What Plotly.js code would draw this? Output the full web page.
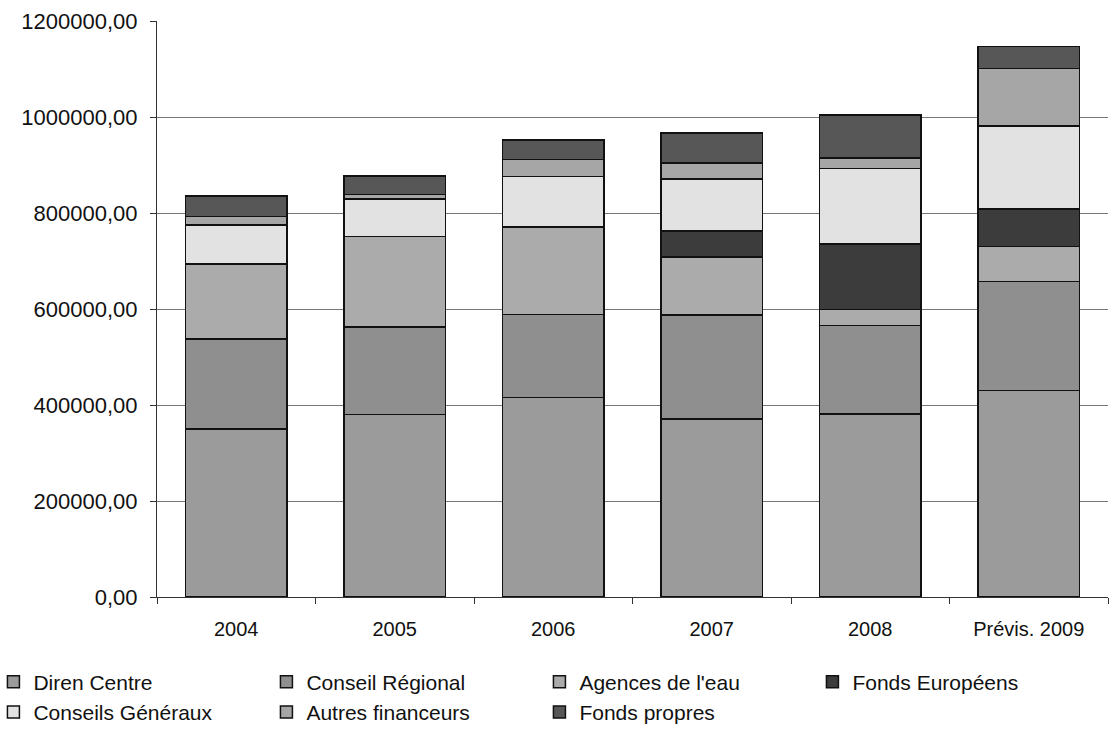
<!DOCTYPE html>
<html>
<head>
<meta charset="utf-8">
<script src="https://cdn.plot.ly/plotly-3.0.1.min.js"></script>
<style>
html,body{margin:0;padding:0;background:#fff;}
#chart{width:1112px;height:731px;}
</style>
</head>
<body>
<div id="chart"></div>
<script>
const categories = ["2004", "2005", "2006", "2007", "2008", "Prévis. 2009"];
const direnCentre       = [350000, 380000, 416000, 371000, 381000, 430000];
const conseilRegional   = [187000, 183000, 173000, 216000, 185000, 227000];
const agencesEau        = [157000, 188000, 182000, 121000, 33000, 73000];
const fondsEuropeens    = [0, 0, 0, 55000, 136000, 78000];
const conseilsGeneraux  = [81000, 78000, 105000, 108000, 158000, 173000];
const autresFinanceurs  = [18000, 10000, 35000, 33000, 22000, 120000];
const fondsPropres      = [42000, 38000, 41000, 63000, 89000, 46000];

const seriesNames = ["Diren Centre", "Conseil Régional", "Agences de l'eau", "Fonds Européens",
                     "Conseils Généraux", "Autres financeurs", "Fonds propres"];
const seriesValues = [direnCentre, conseilRegional, agencesEau, fondsEuropeens,
                      conseilsGeneraux, autresFinanceurs, fondsPropres];
const seriesColors = ["#9b9b9b", "#8f8f8f", "#ababab", "#3c3c3c", "#e2e2e2", "#a6a6a6", "#575757"];

const traces = seriesNames.map((name, i) => ({
  type: "bar",
  name: name,
  x: categories,
  y: seriesValues[i],
  marker: {color: seriesColors[i], line: {color: "#111", width: 1.5}},
  hoverinfo: "x+y+name"
}));

const font = "Liberation Sans, Arial, Helvetica, sans-serif";
const layout = {
  width: 1112, height: 731,
  paper_bgcolor: "#fff", plot_bgcolor: "#fff",
  barmode: "stack",
  bargap: 0.36,
  separators: ", ",
  margin: {l: 157, r: 4, t: 21, b: 134, autoexpand: false},
  font: {family: font, size: 20, color: "#111"},
  xaxis: {
    type: "category",
    showline: true, linecolor: "#333", linewidth: 1,
    ticks: "outside", tickson: "boundaries", ticklen: 6, tickcolor: "#333",
    ticklabelstandoff: 14,
    tickfont: {family: font, size: 20, color: "#111"},
    showgrid: false
  },
  yaxis: {
    range: [0, 1200000],
    dtick: 200000,
    tickformat: ".2f",
    showline: true, linecolor: "#333", linewidth: 1,
    ticks: "outside", ticklen: 6, tickcolor: "#333",
    ticklabelstandoff: 8,
    showgrid: true, gridcolor: "#777", gridwidth: 1,
    zeroline: false,
    tickfont: {family: font, size: 22, color: "#111"}
  },
  showlegend: true,
  legend: {
    orientation: "h",
    traceorder: "normal",
    x: -0.172, xref: "paper", xanchor: "left",
    y: -0.112, yref: "paper", yanchor: "top",
    entrywidth: 228, entrywidthmode: "pixels",
    itemwidth: 30,
    font: {family: font, size: 21, color: "#111"},
    bgcolor: "rgba(0,0,0,0)"
  }
};

Plotly.newPlot("chart", traces, layout, {displayModeBar: false, staticPlot: true});
</script>
</body>
</html>
